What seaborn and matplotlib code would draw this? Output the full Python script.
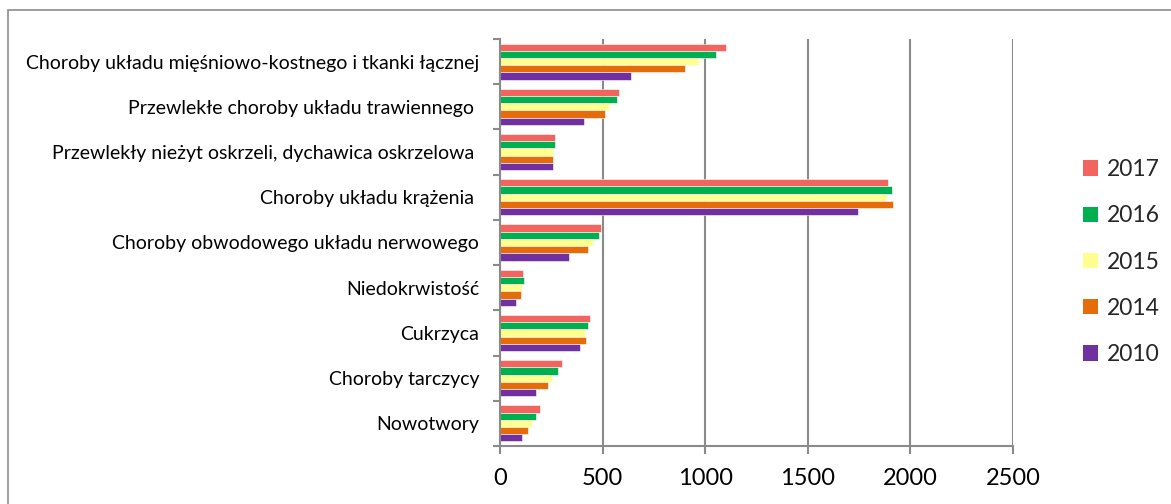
import matplotlib
matplotlib.use("Agg")
import matplotlib.pyplot as plt
import seaborn as sns
import pandas as pd
import numpy as np
from matplotlib.patches import Rectangle

categories = [
    "Choroby układu mięśniowo-kostnego i tkanki łącznej",
    "Przewlekłe choroby układu trawiennego ",
    "Przewlekły nieżyt oskrzeli, dychawica oskrzelowa ",
    "Choroby układu krążenia ",
    "Choroby obwodowego układu nerwowego",
    "Niedokrwistość",
    "Cukrzyca",
    "Choroby tarczycy",
    "Nowotwory",
]
years = ["2017", "2016", "2015", "2014", "2010"]

v2017 = [1100, 580, 270, 1890, 490, 110, 438, 300, 195]
v2016 = [1052, 570, 268, 1908, 482, 117, 430, 281, 176]
v2015 = [970, 532, 258, 1880, 455, 106, 415, 253, 158]
v2014 = [900, 511, 260, 1913, 430, 100, 418, 234, 137]
v2010 = [640, 410, 258, 1745, 337, 80, 388, 175, 106]

colors = {"2017": "#F4645F", "2016": "#00B050", "2015": "#FFFF8F",
          "2014": "#E46C0A", "2010": "#7030A0"}

series = [v2017, v2016, v2015, v2014, v2010]
df = pd.DataFrame(
    [(c, y, v) for y, vals in zip(years, series) for c, v in zip(categories, vals)],
    columns=["kategoria", "rok", "liczba"],
)

sns.set_theme(style="white")
plt.rcParams["font.family"] = ["Lato", "DejaVu Sans"]

fig = plt.figure(figsize=(11.71, 5.04), dpi=100)
ax = fig.add_axes([500 / 1171, 1 - 446 / 504, (1013 - 500) / 1171, (446 - 39) / 504])

sns.barplot(data=df, y="kategoria", x="liczba", hue="rok", hue_order=years,
            order=categories, palette=colors, orient="h", width=0.8,
            saturation=1, ax=ax, legend=True, linewidth=0.4,
            edgecolor="white")

grid_c = "#8A8A8A"
ax.set_xlim(0, 2500)
ax.set_ylim(len(categories) - 0.5, -0.5)
ax.set_xticks(np.arange(0, 2501, 500))
ax.xaxis.grid(True, color=grid_c, linewidth=1.5)
ax.set_axisbelow(True)
ax.set_xlabel("")
ax.set_ylabel("")

for side in ["top", "right"]:
    ax.spines[side].set_visible(False)
for side in ["left", "bottom"]:
    ax.spines[side].set_visible(True)
    ax.spines[side].set_color(grid_c)
    ax.spines[side].set_linewidth(1.5)

# category ticks sit at the boundaries between groups
ax.set_yticks(np.arange(-0.5, len(categories), 1.0), minor=True)
ax.tick_params(axis="y", which="minor", left=True, length=5, width=1.5, color=grid_c)
ax.tick_params(axis="y", which="major", left=False, length=0, pad=15, labelsize=14,
               labelcolor="black")
ax.tick_params(axis="x", which="major", bottom=True, length=6, width=1.5, color=grid_c,
               pad=10, labelsize=17, labelcolor="black")

leg = ax.legend(loc="center left", bbox_to_anchor=(1083 / 1171, 1 - 262 / 504),
                bbox_transform=fig.transFigure, frameon=False, fontsize=16.5,
                handlelength=0.65, handleheight=0.65, handletextpad=0.4,
                labelspacing=1.1, borderpad=0, borderaxespad=0)
for h in leg.legend_handles:
    h.set_linewidth(0)

# outer chart frame
fig.patches.append(Rectangle((8 / 1171, -0.2), 2, 1 - 10 / 504 + 0.2,
                             transform=fig.transFigure, fill=False,
                             edgecolor="#8C8C8C", linewidth=1.2))

fig.savefig("out.png", dpi=100)
